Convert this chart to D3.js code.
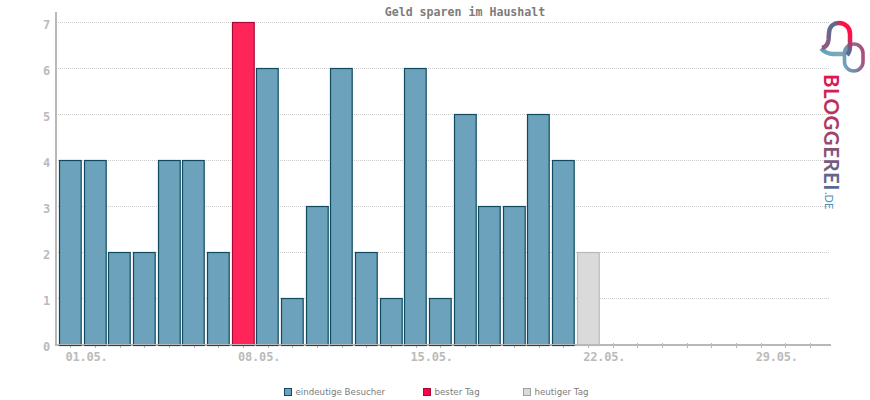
<!DOCTYPE html>
<html>
<head>
<meta charset="utf-8">
<script src="https://cdn.jsdelivr.net/npm/d3@7"></script>
<style>
    html, body { margin: 0; padding: 0; background: #fff; }
    svg { display: block; }
    .tick-label { font-family: "DejaVu Sans Mono", monospace; font-weight: bold; font-size: 12px; letter-spacing: -0.2px; fill: #bbb; }
    .title { font-family: "DejaVu Sans Mono", monospace; font-weight: bold; font-size: 11.6px; fill: #7c7c7c; }
    .legend-label { font-family: "DejaVu Sans", sans-serif; font-size: 8.7px; fill: #7c7c7c; }
</style>
</head>
<body>
<svg id="chart" width="870" height="400"></svg>
<script>
const days = d3.range(1, 32);
const visitors = [4, 4, 2, 2, 4, 4, 2, 7, 6, 1, 3, 6, 2, 1, 6, 1, 5, 3, 3, 5, 4, 2];
const bestDay = 8;
const today = 22;
const yTicks = [0, 1, 2, 3, 4, 5, 6, 7];
const labelledDays = [1, 8, 15, 22, 29];
const legendNames = ['eindeutige Besucher', 'bester Tag', 'heutiger Tag'];

const svg = d3.select('#chart');

const x = d3.scaleBand()
    .domain(days)
    .range([58.175, 822.3])
    .paddingInner(0.12)
    .paddingOuter(0.06);

const y = d3.scaleLinear()
    .domain([0, 7])
    .range([344.5, 22.5]);

const barFill = d => d.day === bestDay ? '#ff2559' : d.day === today ? '#dadada' : '#6ca2bb';
const barStroke = d => d.day === bestDay ? '#a80a38' : d.day === today ? '#b8b8b8' : '#0f4a5e';
const center = d => Math.round(x(d) + x.bandwidth() / 2) + 0.5;

// grid lines
svg.append('g')
    .selectAll('line')
    .data(yTicks.slice(1))
    .enter()
    .append('line')
    .attr('x1', 58)
    .attr('x2', 829)
    .attr('y1', d => y(d))
    .attr('y2', d => y(d))
    .attr('stroke', '#ccc')
    .attr('stroke-dasharray', '1 1');

// ticks and lower half of the x axis go under the bars
svg.append('g')
    .selectAll('line')
    .data(days)
    .enter()
    .append('line')
    .attr('x1', d => center(d))
    .attr('x2', d => center(d))
    .attr('y1', 343)
    .attr('y2', 348)
    .attr('stroke', '#b8b8b8');

svg.append('line')
    .attr('x1', 55).attr('x2', 831)
    .attr('y1', 345.5).attr('y2', 345.5)
    .attr('stroke', '#b8b8b8');

// bars
svg.append('g')
    .selectAll('rect')
    .data(visitors.map((v, i) => ({day: i + 1, value: v})))
    .enter()
    .append('rect')
    .attr('x', d => Math.floor(x(d.day)) + 0.5)
    .attr('y', d => y(d.value))
    .attr('width', x.bandwidth())
    .attr('height', d => y(0) + 1 - y(d.value))
    .attr('fill', barFill)
    .attr('stroke', barStroke)
    .attr('stroke-width', 1.2);

// axes
svg.append('line')
    .attr('x1', 56).attr('x2', 56)
    .attr('y1', 12).attr('y2', 346)
    .attr('stroke', '#b8b8b8').attr('stroke-width', 2);

svg.append('line')
    .attr('x1', 55).attr('x2', 831)
    .attr('y1', 344.5).attr('y2', 344.5)
    .attr('stroke', '#b8b8b8');

// tick labels
svg.append('g')
    .selectAll('text')
    .data(yTicks)
    .enter()
    .append('text')
    .attr('class', 'tick-label')
    .attr('text-anchor', 'end')
    .attr('x', 50)
    .attr('y', d => y(d) + 6.5)
    .text(d => d);

svg.append('g')
    .selectAll('text')
    .data(labelledDays)
    .enter()
    .append('text')
    .attr('class', 'tick-label')
    .attr('x', d => x(d) + x.bandwidth() / 2 - 5)
    .attr('y', 361)
    .text(d => d3.format('02')(d) + '.05.');

// title
svg.append('text')
    .attr('class', 'title')
    .attr('text-anchor', 'middle')
    .attr('x', 465)
    .attr('y', 15.5)
    .text('Geld sparen im Haushalt');

// legend
const legendX = [284, 423, 523];
const legendFill = ['#6ca2bb', '#ff0040', '#dadada'];
const legendStroke = ['#0f4a5e', '#a80a38', '#a0a0a0'];
const legend = svg.append('g')
    .selectAll('g')
    .data(legendNames)
    .enter()
    .append('g')
    .attr('transform', (d, i) => `translate(${legendX[i]},388)`);

legend.append('rect')
    .attr('x', 0.5).attr('y', 0.5)
    .attr('width', 7).attr('height', 7)
    .attr('fill', (d, i) => legendFill[i])
    .attr('stroke', (d, i) => legendStroke[i]);

legend.append('text')
    .attr('class', 'legend-label')
    .attr('x', 11.5)
    .attr('y', 7)
    .text(d => d);

// logo
const defs = svg.append('defs');

function addGradient(id, x1, y1, x2, y2, stops) {
    const grad = defs.append('linearGradient')
        .attr('id', id)
        .attr('gradientUnits', 'userSpaceOnUse')
        .attr('x1', x1).attr('y1', y1).attr('x2', x2).attr('y2', y2);
    stops.forEach(s => grad.append('stop').attr('offset', s[0]).attr('stop-color', s[1]));
}

addGradient('logoGrad', 0, 0, 118, 0, [[0, '#e2134f'], [0.5, '#a04468'], [1, '#4f6f96']]);
addGradient('archGrad', 825, 45, 851, 30, [[0, '#8f5a80'], [0.6, '#4f6f96'], [0.85, '#ff1148'], [1, '#ff1148']]);
addGradient('baseGrad', 821, 50, 848, 54, [[0, '#5fa0bb'], [0.6, '#7aa8bf'], [1, '#9a9aa8']]);
addGradient('ringGrad', 844, 60, 864, 55, [[0, '#6ca2bb'], [0.5, '#7f7f9f'], [1, '#b04a78']]);

const logo = svg.append('g');
logo.append('path')
    .attr('d', 'M821 48.5 C824.5 52 828 54 833 54 H846')
    .attr('fill', 'none')
    .attr('stroke', 'url(#baseGrad)')
    .attr('stroke-width', 4.5);
logo.append('rect')
    .attr('x', 844.5).attr('y', 44).attr('width', 18.5).attr('height', 27).attr('rx', 9.2)
    .attr('fill', 'none')
    .attr('stroke', 'url(#ringGrad)')
    .attr('stroke-width', 3.6);
logo.append('path')
    .attr('d', 'M822 48 C826 47 828 44 828.5 40 L829 33 C829.5 26 834 23 838.5 23 C845 23 850 27 850 34 V46 C850 50 849 53 847 55')
    .attr('fill', 'none')
    .attr('stroke', 'url(#archGrad)')
    .attr('stroke-width', 4.5);

logo.append('text')
    .attr('transform', 'translate(824,74) rotate(90)')
    .attr('font-family', 'Lato, sans-serif')
    .attr('font-weight', 'bold')
    .attr('font-size', 20.5)
    .attr('letter-spacing', 0.45)
    .attr('fill', 'url(#logoGrad)')
    .text('BLOGGEREI');
logo.append('text')
    .attr('transform', 'translate(825,192) rotate(90)')
    .attr('font-family', 'Lato, sans-serif')
    .attr('font-size', 11)
    .attr('fill', '#4f8fb0')
    .text('.DE');
</script>
</body>
</html>
